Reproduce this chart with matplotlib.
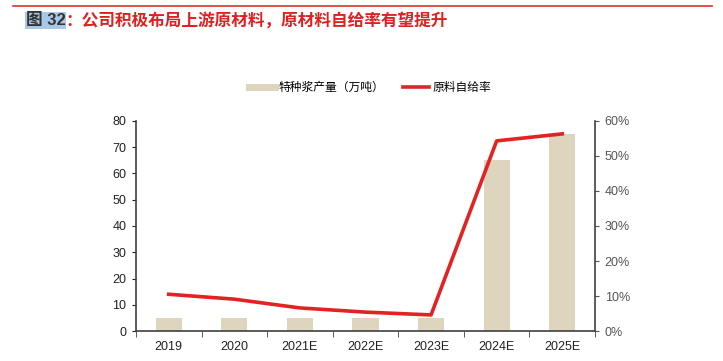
import numpy as np
import matplotlib.pyplot as plt
from matplotlib import rcParams
from matplotlib.ticker import FuncFormatter
from matplotlib.lines import Line2D

rcParams["font.family"] = ["Liberation Sans", "Noto Sans CJK SC", "DejaVu Sans"]
rcParams["axes.linewidth"] = 1.2

years = ["2019", "2020", "2021E", "2022E", "2023E", "2024E", "2025E"]
output = [5, 5, 5, 5, 5, 65, 75]                       # 特种浆产量（万吨）
selfRate = [10.5, 9.1, 6.6, 5.4, 4.6, 54.3, 56.3]      # 原料自给率（%）

barColor = "#DDD5BE"
lineColor = "#E32222"
axisColor = "#404040"

fig = plt.figure(figsize=(7.23, 3.61), dpi=100)
ax = fig.add_axes([0.188, 0.083, 0.635, 0.582])
ax2 = ax.twinx()

x = np.arange(len(years))
ax.bar(x, output, width=0.4, color=barColor, zorder=2)
ax2.plot(x, selfRate, color=lineColor, lw=2.6, zorder=3)

ax.set_xlim(-0.5, len(years) - 0.5)
ax.set_ylim(0, 80)
ax.set_yticks(np.arange(0, 81, 10))
ax2.set_ylim(0, 60)
ax2.set_yticks(np.arange(0, 61, 10))
ax2.yaxis.set_major_formatter(FuncFormatter(lambda v, p: f"{v:.0f}%"))

ax.set_xticks(x)
ax.set_xticklabels(years)
ax.set_xticks(np.arange(-0.5, len(years), 1), minor=True)
ax.tick_params(axis="x", which="major", length=0, labelsize=9, colors="#222222", pad=7)
ax.tick_params(axis="x", which="minor", length=4, direction="out", color=axisColor)
ax.tick_params(axis="y", length=3, direction="out", labelsize=9, colors="#222222", pad=4)
ax2.tick_params(axis="y", length=3, direction="out", labelsize=9, colors="#555555", pad=4)

for a in (ax, ax2):
    a.spines["top"].set_visible(False)
    for s in ("left", "right", "bottom"):
        a.spines[s].set_color(axisColor)
ax.spines["right"].set_visible(False)
ax2.spines["left"].set_visible(False)
ax2.spines["bottom"].set_visible(False)
ax.set_zorder(ax2.get_zorder() - 1)
ax2.patch.set_visible(False)

handles = [Line2D([], [], color=barColor, lw=5), Line2D([], [], color=lineColor, lw=2.6)]
fig.legend(handles, ["特种浆产量（万吨）", "原料自给率"], loc="center", bbox_to_anchor=(0.512, 0.757),
           ncol=2, frameon=False, fontsize=8.5, handlelength=2.2, columnspacing=1.6, handletextpad=0.3)

# title with top rule
fig.add_artist(Line2D([0.018, 0.985], [0.983, 0.983], color="#E03030", lw=1.2))
fig.text(0.036, 0.943, "图 32", fontsize=12, fontweight="bold", color="#333333", va="center",
         bbox=dict(facecolor="#A9C8E8", edgecolor="none", pad=0.5))
fig.text(0.09, 0.943, "：公司积极布局上游原材料，原材料自给率有望提升", fontsize=12,
         fontweight="bold", color="#E02020", va="center")

plt.savefig("out.png", dpi=100)
